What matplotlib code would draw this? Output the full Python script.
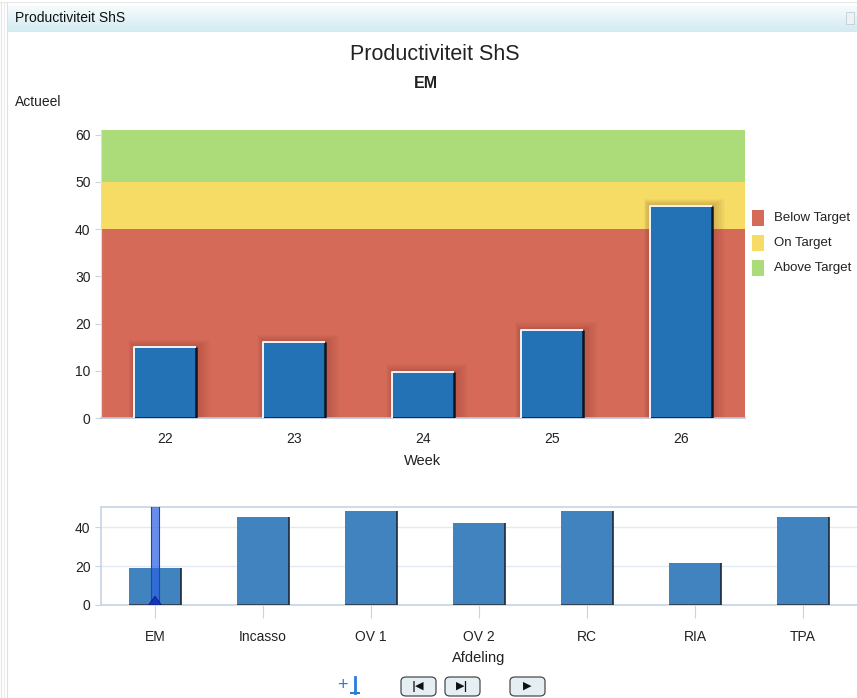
import numpy as np
import matplotlib.pyplot as plt
from matplotlib.patches import Rectangle, FancyBboxPatch, Polygon

# Productiviteit per week (afdeling EM)
weeks = ["22", "23", "24", "25", "26"]
actueel = [15.0, 16.1, 9.8, 18.7, 44.8]

# Drempels voor de achtergrondbanden
band_labels = ["Below Target", "On Target", "Above Target"]
band_edges = [0, 40, 50, 61]
band_colors = ["#D66A58", "#F6DC64", "#ACDC7A"]

# Overzicht per afdeling
afdelingen = ["EM", "Incasso", "OV 1", "OV 2", "RC", "RIA", "TPA"]
afdeling_waarden = [19.2, 45.3, 48.3, 42.2, 48.3, 21.5, 45.3]
geselecteerd = "EM"

W, H = 857, 698
fig = plt.figure(figsize=(W / 100, H / 100), dpi=100)
plt.rcParams['font.family'] = ['Liberation Sans', 'DejaVu Sans']


def px_axes(x0, y0, x1, y1, **kw):
    # axes op pixelpositie (y van boven naar beneden)
    return fig.add_axes([x0 / W, (H - y1) / H, (x1 - x0) / W, (y1 - y0) / H], **kw)


def fx(x):
    return x / W


def fy(y):
    return (H - y) / H


# --- kopbalk van het paneel ---
hdr = px_axes(8, 5, 857, 32)
grad = np.linspace(0, 1, 50)[:, None]
hdr.imshow(grad, aspect="auto", cmap=plt.matplotlib.colors.LinearSegmentedColormap.from_list(
    "hdr", ["#f7fcfd", "#d2ebf1"]), extent=[0, 1, 0, 1])
hdr.set_axis_off()
fig.text(fx(15), fy(18), "Productiviteit ShS", fontsize=10, va="center", ha="left", color="#111111")
fig.patches.append(Rectangle((fx(846), fy(24)), 8 / W, 12 / H, transform=fig.transFigure,
                             facecolor="#eef2f6", edgecolor="#c4ccd6", lw=0.6))
# linkerrand
for xx, c in [(1, "#e4e4e4"), (4, "#ececec"), (7, "#e0e0e0")]:
    fig.add_artist(plt.Line2D([fx(xx), fx(xx)], [0, fy(3)], color=c, lw=0.8, transform=fig.transFigure))
fig.add_artist(plt.Line2D([0, 1], [fy(2), fy(2)], color="#e8e8e8", lw=0.8, transform=fig.transFigure))

# --- titels ---
fig.text(fx(435), fy(54), "Productiviteit ShS", fontsize=15.5, ha="center", va="center", color="#222222")
fig.text(fx(426), fy(83), "EM", fontsize=11.5, ha="center", va="center", fontweight="bold", color="#222222")
fig.text(fx(15), fy(102), "Actueel", fontsize=10, ha="left", va="center", color="#222222")

# --- hoofdgrafiek ---
ax = px_axes(101, 130, 745, 418)
x = np.arange(len(weeks))
for lo, hi, col in zip(band_edges[:-1], band_edges[1:], band_colors):
    ax.axhspan(lo, hi, color=col, lw=0, zorder=0)

bw = 0.48
for xi, v in zip(x, actueel):
    # zachte schaduw rond de staaf
    for k in range(1, 8):
        pad = 0.011 * k
        ax.add_patch(Rectangle((xi - bw / 2 - pad * 0.6, 0), bw + pad * 2.0, v + pad * 20,
                               facecolor="#6a2a20", alpha=0.04, lw=0, zorder=1))
    ax.add_patch(Rectangle((xi - bw / 2, 0), bw, v, facecolor="#2372B5", lw=0, zorder=3))
    ax.plot([xi + bw / 2, xi + bw / 2, xi - bw / 2], [v, 0, 0], color="#0d1620", lw=1.8,
            zorder=4, solid_capstyle="butt")
    ax.plot([xi - bw / 2, xi - bw / 2, xi + bw / 2], [0, v, v], color="#f4f4f4", lw=1.4,
            zorder=4, solid_capstyle="butt")

ax.set_xlim(-0.5, len(weeks) - 0.5)
ax.set_ylim(0, band_edges[-1])
ax.set_xticks(x)
ax.set_xticklabels(weeks)
ax.set_yticks(np.arange(0, 61, 10))
ax.tick_params(axis="both", labelsize=10, colors="#c8d4e2", labelcolor="#222222", length=4)
ax.tick_params(axis="x", length=0, pad=10)
for s in ["top", "right"]:
    ax.spines[s].set_visible(False)
ax.spines["left"].set_color("#d6dde6")
ax.spines["bottom"].set_color("#b8c8dc")
ax.spines["bottom"].set_linewidth(1.2)
ax.set_xlabel("Week", fontsize=10.5, color="#222222", labelpad=6)

# legenda
for i, (lab, col) in enumerate(zip(band_labels, band_colors)):
    yc = 218 + 25 * i
    fig.patches.append(Rectangle((fx(752), fy(yc + 8)), 12 / W, 16 / H, transform=fig.transFigure,
                                 facecolor=col, lw=0))
    fig.text(fx(774), fy(yc), lab, fontsize=9.5, va="center", ha="left", color="#222222")

# --- overzichtsgrafiek per afdeling ---
ax2 = px_axes(101, 507, 857, 605)
x2 = np.arange(len(afdelingen))
bw2 = 0.49
ax2.bar(x2, afdeling_waarden, width=bw2, color="#4183BE", zorder=2, lw=0)
for xi, v in zip(x2, afdeling_waarden):
    ax2.plot([xi + bw2 / 2, xi + bw2 / 2, xi - bw2 / 2], [v, 0, 0], color="#1e2a38",
             lw=1.2, zorder=3, solid_capstyle="butt")
ax2.set_xlim(-0.5, len(afdelingen) - 0.5)
ax2.set_ylim(0, 50.5)
ax2.set_yticks([0, 20, 40])
ax2.set_xticks(x2)
ax2.set_xticklabels(afdelingen)
ax2.grid(axis="y", color="#e4eaf1", lw=1, zorder=0)
ax2.tick_params(axis="both", labelsize=10, colors="#c8d4e2", labelcolor="#222222", length=4)
ax2.tick_params(axis="x", length=18, pad=9, direction="inout")
for s in ["top", "left", "bottom"]:
    ax2.spines[s].set_color("#c6d4e4")
    ax2.spines[s].set_linewidth(1.2)
ax2.spines["right"].set_visible(False)
ax2.set_xlabel("Afdeling", fontsize=10.5, color="#222222", labelpad=5)

# selectiemarkering
sel = afdelingen.index(geselecteerd)
ax2.axvspan(sel - 0.036, sel + 0.036, color="#2d63e0", alpha=0.72, zorder=4, lw=0)
ax2.plot([sel - 0.036, sel - 0.036], [0, 50.5], color="#1a44b8", lw=0.8, zorder=5)
ax2.plot([sel + 0.036, sel + 0.036], [0, 50.5], color="#1a44b8", lw=0.8, zorder=5)
ax2.add_patch(Polygon([[sel - 0.06, 0], [sel + 0.06, 0], [sel, 4.5]], closed=True,
                      facecolor="#1536b8", edgecolor="#0a2180", lw=0.6, zorder=5))

# --- bedieningsknoppen ---
fig.text(fx(342), fy(685), "+", fontsize=13, color="#2a7ae0", ha="center", va="center")
fig.add_artist(plt.Line2D([fx(355), fx(355)], [fy(693), fy(677)], color="#2a7ae0", lw=2,
                          transform=fig.transFigure))
fig.add_artist(plt.Line2D([fx(351), fx(359)], [fy(693), fy(693)], color="#2a7ae0", lw=1.5,
                          transform=fig.transFigure))
for xc, sym in [(418, "|◀"), (462, "▶|"), (527, "▶")]:
    fig.patches.append(FancyBboxPatch((fx(xc - 17), fy(696)), 35 / W, 19 / H,
                                      boxstyle="round,pad=0,rounding_size=0.006",
                                      transform=fig.transFigure, facecolor="#e4eef3",
                                      edgecolor="#4a4a4a", lw=0.9))
    fig.text(fx(xc), fy(686), sym, fontsize=8, ha="center", va="center", color="#111111",
             family="DejaVu Sans", fontweight="bold")

fig.savefig("out.png", dpi=100)
